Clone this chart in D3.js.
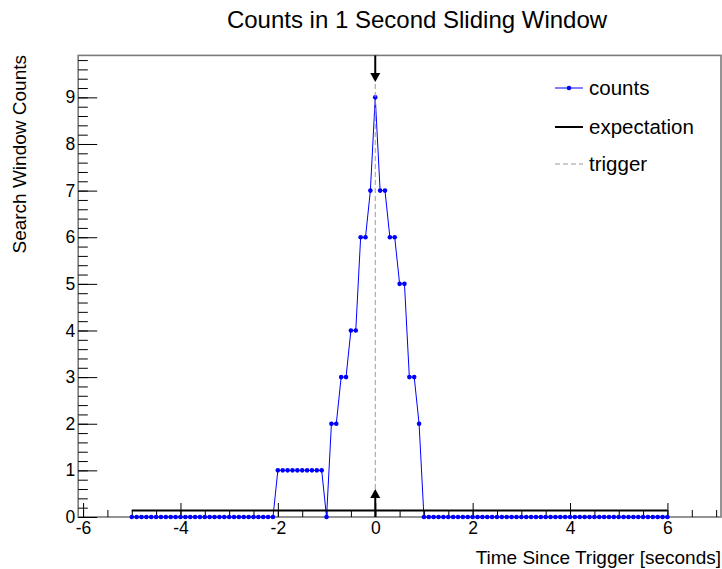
<!DOCTYPE html>
<html>
<head>
<meta charset="utf-8">
<script src="https://cdn.jsdelivr.net/npm/d3@7"></script>
<style>
  html, body { margin: 0; padding: 0; background: #fff; }
  svg { display: block; }
  text { font-family: "Liberation Sans", Arial, Helvetica, sans-serif; fill: #000; }
</style>
</head>
<body>
<svg id="chart" width="722" height="569"></svg>
<script>
// ---- data ----
const times = [
  -5.0,-4.9,-4.8,-4.7,-4.6,-4.5,-4.4,-4.3,-4.2,-4.1,
  -4.0,-3.9,-3.8,-3.7,-3.6,-3.5,-3.4,-3.3,-3.2,-3.1,
  -3.0,-2.9,-2.8,-2.7,-2.6,-2.5,-2.4,-2.3,-2.2,-2.1,
  -2.0,-1.9,-1.8,-1.7,-1.6,-1.5,-1.4,-1.3,-1.2,-1.1,
  -1.0,-0.9,-0.8,-0.7,-0.6,-0.5,-0.4,-0.3,-0.2,-0.1,
   0.0, 0.1, 0.2, 0.3, 0.4, 0.5, 0.6, 0.7, 0.8, 0.9,
   1.0, 1.1, 1.2, 1.3, 1.4, 1.5, 1.6, 1.7, 1.8, 1.9,
   2.0, 2.1, 2.2, 2.3, 2.4, 2.5, 2.6, 2.7, 2.8, 2.9,
   3.0, 3.1, 3.2, 3.3, 3.4, 3.5, 3.6, 3.7, 3.8, 3.9,
   4.0, 4.1, 4.2, 4.3, 4.4, 4.5, 4.6, 4.7, 4.8, 4.9,
   5.0, 5.1, 5.2, 5.3, 5.4, 5.5, 5.6, 5.7, 5.8, 5.9,
   6.0
];
const counts = [
  0,0,0,0,0,0,0,0,0,0,
  0,0,0,0,0,0,0,0,0,0,
  0,0,0,0,0,0,0,0,0,0,
  1,1,1,1,1,1,1,1,1,1,
  0,2,2,3,3,4,4,6,6,7,
  9,7,7,6,6,5,5,3,3,2,
  0,0,0,0,0,0,0,0,0,0,
  0,0,0,0,0,0,0,0,0,0,
  0,0,0,0,0,0,0,0,0,0,
  0,0,0,0,0,0,0,0,0,0,
  0,0,0,0,0,0,0,0,0,0,
  0
];
const expectationX = [-5.0, 6.0];
const expectationY = [0.14, 0.14];
const triggerTime = 0;
const triggerDashY = [0.6, 9.33];
const topArrowY = [9.9, 9.33];
const bottomArrowY = [0.0, 0.6];
const xDomain = [-6.1, 7.1];
const yDomain = [0, 9.9];
const xMajorTicks = [-6, -4, -2, 0, 2, 4, 6];
const xTickLabels = ["-6", "-4", "-2", "0", "2", "4", "6"];
const xMinorTicks = [-6,-5.5,-5,-4.5,-4,-3.5,-3,-2.5,-2,-1.5,-1,-0.5,0,0.5,1,1.5,2,2.5,3,3.5,4,4.5,5,5.5,6,6.5,7];
const yMajorTicks = [0,1,2,3,4,5,6,7,8,9];
const yTickLabels = ["0","1","2","3","4","5","6","7","8","9"];
const yMinorTicks = [0,0.2,0.4,0.6,0.8,1,1.2,1.4,1.6,1.8,2,2.2,2.4,2.6,2.8,3,3.2,3.4,3.6,3.8,4,4.2,4.4,4.6,4.8,5,5.2,5.4,5.6,5.8,6,6.2,6.4,6.6,6.8,7,7.2,7.4,7.6,7.8,8,8.2,8.4,8.6,8.8,9,9.2,9.4,9.6,9.8];
const titleText = "Counts in 1 Second Sliding Window";
const xTitle = "Time Since Trigger [seconds]";
const yTitle = "Search Window Counts";
const legendLabels = ["counts", "expectation", "trigger"];

// ---- layout ----
const L = 78.2, R = 721, T = 55.4, B = 517;
const svg = d3.select("#chart");
const x = d3.scaleLinear().domain(xDomain).range([L, R]);
const y = d3.scaleLinear().domain(yDomain).range([B, T]);

// frame
svg.append("rect").attr("x", L).attr("y", T).attr("width", R - L).attr("height", B - T)
  .attr("fill", "none").attr("stroke", "#7a7a7a").attr("stroke-width", 1.6);

// x axis minor
const gxMin = svg.append("g").attr("transform", `translate(0,${B})`)
  .call(d3.axisBottom(x).tickValues(xMinorTicks).tickSizeInner(-7).tickSizeOuter(0).tickFormat(""));
// x axis major
const gx = svg.append("g").attr("transform", `translate(0,${B})`)
  .call(d3.axisBottom(x).tickValues(xMajorTicks).tickSizeInner(-14).tickSizeOuter(0).tickPadding(5)
    .tickFormat((d, i) => xTickLabels[i]));
// y axis minor
const gyMin = svg.append("g").attr("transform", `translate(${L},0)`)
  .call(d3.axisLeft(y).tickValues(yMinorTicks).tickSizeInner(-9.6).tickSizeOuter(0).tickFormat(""));
// y axis major
const gy = svg.append("g").attr("transform", `translate(${L},0)`)
  .call(d3.axisLeft(y).tickValues(yMajorTicks).tickSizeInner(-19).tickSizeOuter(0).tickPadding(3)
    .tickFormat((d, i) => yTickLabels[i]));

[gxMin, gx, gyMin, gy].forEach(g => {
  g.select(".domain").remove();
  g.selectAll(".tick line").attr("stroke", "#000").attr("stroke-width", 1);
  g.selectAll(".tick text").attr("font-size", 17.5).attr("font-family", '"Liberation Sans", Arial, sans-serif').attr("fill", "#000");
});

// counts graph
const line = d3.line().x((d, i) => x(times[i])).y(d => y(d));
svg.append("path").datum(counts).attr("d", line)
  .attr("fill", "none").attr("stroke", "#0000ff").attr("stroke-width", 1);
svg.append("g").selectAll("circle").data(counts).join("circle")
  .attr("cx", (d, i) => x(times[i])).attr("cy", d => y(d)).attr("r", 2.3).attr("fill", "#0000ff");

// expectation
svg.append("line")
  .attr("x1", x(expectationX[0])).attr("x2", x(expectationX[1]))
  .attr("y1", y(expectationY[0])).attr("y2", y(expectationY[1]))
  .attr("stroke", "#000").attr("stroke-width", 2);

// trigger dashed
svg.append("line")
  .attr("x1", x(triggerTime)).attr("x2", x(triggerTime))
  .attr("y1", y(triggerDashY[0])).attr("y2", y(triggerDashY[1]))
  .attr("stroke", "#999").attr("stroke-width", 1).attr("stroke-dasharray", "5,3");

// arrows
function arrow(y0, y1) {
  const xp = x(triggerTime), a = y(y0), b = y(y1);
  const dir = b < a ? 1 : -1; // 1 -> pointing up
  const head = 9, hw = 5;
  svg.append("line").attr("x1", xp).attr("x2", xp).attr("y1", a).attr("y2", b + dir * head * 0.6)
    .attr("stroke", "#000").attr("stroke-width", 2);
  svg.append("path")
    .attr("d", `M${xp},${b} L${xp - hw},${b + dir * head} L${xp + hw},${b + dir * head} Z`)
    .attr("fill", "#000");
}
arrow(topArrowY[0], topArrowY[1]);
arrow(bottomArrowY[0], bottomArrowY[1]);

// title
svg.append("text").attr("x", 417).attr("y", 28).attr("text-anchor", "middle")
  .attr("font-size", 24).text(titleText);
// axis titles
svg.append("text").attr("x", 721).attr("y", 564).attr("text-anchor", "end")
  .attr("font-size", 19).text(xTitle);
svg.append("text").attr("transform", "translate(26,55) rotate(-90)").attr("text-anchor", "end")
  .attr("font-size", 19).text(yTitle);

// legend
const lg = svg.append("g");
const ly = [88, 127, 164];
const lx0 = 555, lx1 = 583, ltx = 589;
lg.append("line").attr("x1", lx0).attr("x2", lx1).attr("y1", ly[0]).attr("y2", ly[0]).attr("stroke", "#0000ff").attr("stroke-width", 1);
lg.append("circle").attr("cx", (lx0 + lx1) / 2).attr("cy", ly[0]).attr("r", 2.3).attr("fill", "#0000ff");
lg.append("line").attr("x1", lx0).attr("x2", lx1).attr("y1", ly[1]).attr("y2", ly[1]).attr("stroke", "#000").attr("stroke-width", 2);
lg.append("line").attr("x1", lx0).attr("x2", lx1).attr("y1", ly[2]).attr("y2", ly[2]).attr("stroke", "#999").attr("stroke-width", 1).attr("stroke-dasharray", "5,3");
legendLabels.forEach((t, i) => {
  lg.append("text").attr("x", ltx).attr("y", ly[i]).attr("dy", "0.35em").attr("font-size", 20.5).text(t);
});
</script>
</body>
</html>
